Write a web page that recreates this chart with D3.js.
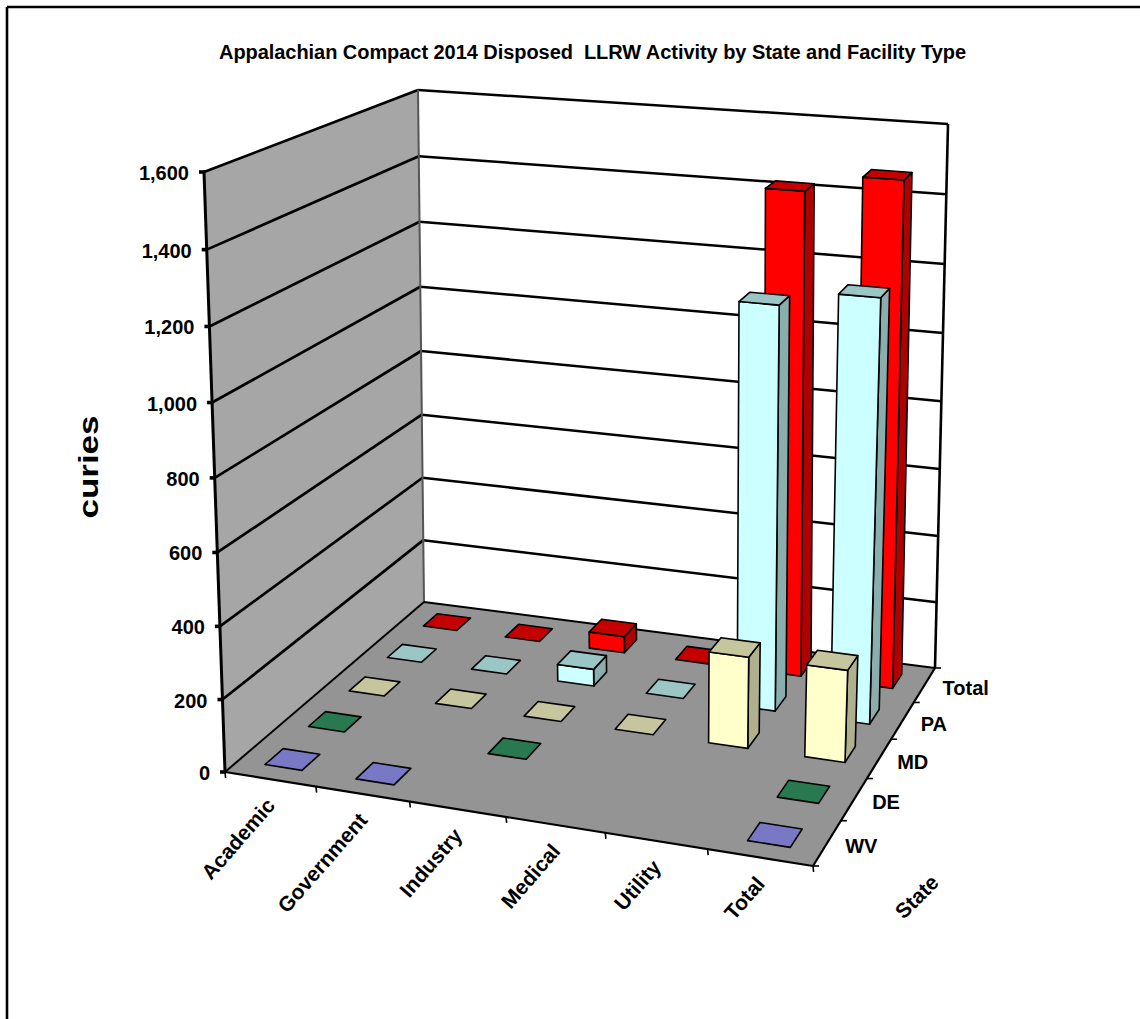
<!DOCTYPE html>
<html>
<head>
<meta charset="utf-8">
<script src="https://cdn.jsdelivr.net/npm/d3@7"></script>
<style>
  html, body { margin: 0; padding: 0; background: #fff; }
  svg { display: block; }
  text { font-family: "Liberation Sans", Arial, sans-serif; font-weight: bold; fill: #000; }
</style>
</head>
<body>
<svg id="chart" width="1140" height="1019"></svg>
<script>
// chart data (null = no bar drawn)
const categories = ["Academic", "Government", "Industry", "Medical", "Utility", "Total"];
const states = ["WV", "DE", "MD", "PA", "Total"];
const wvValues = [0, 0, null, null, null, 0];
const deValues = [0, null, 0, null, null, 0];
const mdValues = [0, 0, 0, 0, 258, 258];
const paValues = [0, 0, 50, 0, 1160, 1205];
const totalValues = [0, 0, 50, 0, 1420, 1472];
const yTicks = [0, 200, 400, 600, 800, 1000, 1200, 1400, 1600];

const seriesValues = [wvValues, deValues, mdValues, paValues, totalValues];
const seriesColors = [
  { front: "#9999ff", top: "#7878c4", side: "#6c6cb0" },
  { front: "#339966", top: "#287850", side: "#226a46" },
  { front: "#ffffcc", top: "#c6c69e", side: "#b0b08e" },
  { front: "#ccffff", top: "#9cc6c6", side: "#8aadad" },
  { front: "#ff0000", top: "#c40000", side: "#b00000" }
];

const svg = d3.select("#chart");

// corners of the 3d box on screen: floor and top plane
// order: front-left, front-right, back-right, back-left
const floorCorners = [[225, 772], [813, 866], [935, 668], [424, 602]];
const topCorners = [[204, 172], [838, 230], [948, 124], [418, 90]];

// unit square -> quad homography
function homography(q) {
  const [[x0, y0], [x1, y1], [x2, y2], [x3, y3]] = q;
  const dx1 = x1 - x2, dx2 = x3 - x2, sx = x0 - x1 + x2 - x3;
  const dy1 = y1 - y2, dy2 = y3 - y2, sy = y0 - y1 + y2 - y3;
  const det = dx1 * dy2 - dx2 * dy1;
  const g = (sx * dy2 - dx2 * sy) / det;
  const h = (dx1 * sy - sx * dy1) / det;
  const a = x1 - x0 + g * x1, b = x3 - x0 + h * x3;
  const d = y1 - y0 + g * y1, e = y3 - y0 + h * y3;
  return (u, v) => {
    const w = g * u + h * v + 1;
    return [(a * u + b * v + x0) / w, (d * u + e * v + y0) / w];
  };
}
const floorH = homography(floorCorners);
const topH = homography(topCorners);

const x = d3.scaleBand().domain(d3.range(categories.length)).range([0, 1]).paddingInner(0.59).paddingOuter(0.295);
const z = d3.scaleBand().domain(d3.range(states.length)).range([0, 1]).paddingInner(0.59).paddingOuter(0.295);
const y = d3.scaleLinear().domain([0, 1600]).range([0, 1]);

// u across, v into the picture, h up (all 0..1)
const K = 1.04;
function project(u, v, h) {
  const t = h / (h + (1 - h) * K);
  const b = floorH(u, v), c = topH(u, v);
  return [b[0] + (c[0] - b[0]) * t, b[1] + (c[1] - b[1]) * t];
}
const line = d3.line();

function poly(g, pts, fill, width) {
  g.append("path")
    .attr("d", line(pts) + "Z")
    .attr("fill", fill)
    .attr("stroke", "#000")
    .attr("stroke-width", width)
    .attr("stroke-linejoin", "round");
}
function seg(g, a, b, width, color) {
  g.append("line")
    .attr("x1", a[0]).attr("y1", a[1])
    .attr("x2", b[0]).attr("y2", b[1])
    .attr("stroke", color || "#000")
    .attr("stroke-width", width);
}

// outer frame, only top and left show
seg(svg, [7, 7], [1140, 7], 2.6);
seg(svg, [7, 7], [7, 1019], 2.6);

// walls and floor
const walls = svg.append("g");
walls.append("path")
  .attr("d", line([project(0, 0, 0), project(0, 1, 0), project(0, 1, 1), project(0, 0, 1)]) + "Z")
  .attr("fill", "#a6a6a6");
walls.append("path")
  .attr("d", line([project(0, 0, 0), project(1, 0, 0), project(1, 1, 0), project(0, 1, 0)]) + "Z")
  .attr("fill", "#949494");

yTicks.forEach(t => {
  const h = y(t);
  if (t > 0) {
    seg(walls, project(0, 0, h), project(0, 1, h), 2.7);
    seg(walls, project(0, 1, h), project(1, 1, h), 2.5);
  }
});
seg(walls, project(0, 0, 0), project(0, 0, 1), 3);
seg(walls, project(0, 1, 0), project(0, 1, 1), 2, "#555");
seg(walls, project(1, 1, 0), project(1, 1, 1), 2.6);
seg(walls, project(0, 0, 0), project(1, 0, 0), 2.2);
seg(walls, project(1, 0, 0), project(1, 1, 0), 2.2);
seg(walls, project(0, 1, 0), project(1, 1, 0), 2);
seg(walls, project(0, 0, 0), project(0, 1, 0), 2);

// value axis ticks and labels
yTicks.forEach(t => {
  const p = project(0, 0, y(t));
  seg(svg, [p[0] - 5, p[1]], [p[0] + 1, p[1]], 3.6);
  svg.append("text")
    .attr("x", p[0] - 15).attr("y", p[1] + 8)
    .attr("text-anchor", "end")
    .attr("font-size", 20)
    .text(d3.format(",")(t));
});

// category ticks and labels along the front edge
d3.range(categories.length + 1).forEach(i => {
  const p = project(i / categories.length, 0, 0);
  seg(svg, p, [p[0] + 0.6, p[1] + 6], 1.6);
});
categories.forEach((c, i) => {
  const p = project(x(i) + x.bandwidth() / 2, 0, 0);
  svg.append("text")
    .attr("transform", `translate(${p[0] + 6},${p[1] + 27}) rotate(-49)`)
    .attr("text-anchor", "end")
    .attr("font-size", 21)
    .text(c);
});

// state ticks and labels along the right edge
d3.range(states.length + 1).forEach(i => {
  const p = project(1, i / states.length, 0);
  seg(svg, p, [p[0] + 6, p[1]], 1.6);
});
states.forEach((s, i) => {
  const p = project(1, z(i) + z.bandwidth() / 2, 0);
  svg.append("text")
    .attr("x", p[0] + 18).attr("y", p[1] + 10)
    .attr("font-size", 20)
    .text(s);
});

// bars, back row first
const bars = svg.append("g");
d3.range(states.length - 1, -1, -1).forEach(s => {
  const col = seriesColors[s];
  categories.forEach((c, i) => {
    const v = seriesValues[s][i];
    if (v === null) return;
    const u0 = x(i), u1 = u0 + x.bandwidth();
    const v0 = z(s), v1 = v0 + z.bandwidth();
    const h = y(v);
    if (v > 0) {
      poly(bars, [project(u1, v0, 0), project(u1, v1, 0), project(u1, v1, h), project(u1, v0, h)], col.side, 1.6);
      poly(bars, [project(u0, v0, 0), project(u1, v0, 0), project(u1, v0, h), project(u0, v0, h)], col.front, 1.6);
    }
    poly(bars, [project(u0, v0, h), project(u1, v0, h), project(u1, v1, h), project(u0, v1, h)], col.top, 1.6);
  });
});

// titles
svg.append("text")
  .attr("x", 592.5).attr("y", 59)
  .attr("text-anchor", "middle")
  .attr("font-size", 20)
  .attr("textLength", 747)
  .style("white-space", "pre")
  .text("Appalachian Compact 2014 Disposed  LLRW Activity by State and Facility Type");

svg.append("text")
  .attr("transform", "translate(98,467) rotate(-90) scale(1.25,1)")
  .attr("text-anchor", "middle")
  .attr("font-size", 28)
  .text("curies");

svg.append("text")
  .attr("transform", "translate(917,897) rotate(-45)")
  .attr("text-anchor", "middle")
  .attr("dy", 7)
  .attr("font-size", 21)
  .text("State");
</script>
</body>
</html>
